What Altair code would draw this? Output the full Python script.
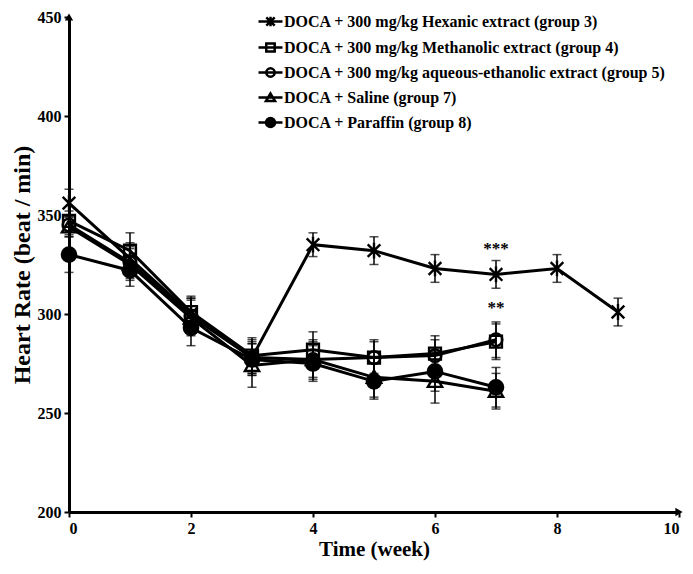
import altair as alt
import pandas as pd

groups = [
    "DOCA + 300 mg/kg Hexanic extract (group 3)",
    "DOCA + 300 mg/kg Methanolic extract (group 4)",
    "DOCA + 300 mg/kg aqueous-ethanolic  extract (group 5)",
    " DOCA + Saline (group 7)",
    "DOCA + Paraffin (group 8)",
]

weeks_hex = [0, 1, 2, 3, 4, 5, 6, 7, 8, 9]
hr_hex = [356, 328, 300, 278, 335, 332, 323, 320, 323, 301]
err_hex = [7, 8, 8, 8, 6, 7, 7, 7, 7, 7]

weeks_other = [0, 1, 2, 3, 4, 5, 6, 7]
hr_meth = [347, 332, 301, 279, 282, 278, 280, 286]
err_meth = [5, 9, 8, 9, 9, 9, 9, 9]
hr_aq = [345, 326, 299, 278, 277, 278, 279, 287]
err_aq = [5, 8, 9, 9, 10, 8, 8, 9]
hr_sal = [344, 325, 298, 274, 277, 268, 266, 261]
err_sal = [5, 8, 9, 11, 9, 10, 11, 9]
hr_par = [330, 322, 293, 277, 275, 266, 271, 263]
err_par = [9, 8, 9, 8, 9, 9, 10, 10]

sig_week = [7, 7]
sig_hr = [333, 303]
sig_text = ["***", "**"]

series = [
    (groups[0], weeks_hex, hr_hex, err_hex),
    (groups[1], weeks_other, hr_meth, err_meth),
    (groups[2], weeks_other, hr_aq, err_aq),
    (groups[3], weeks_other, hr_sal, err_sal),
    (groups[4], weeks_other, hr_par, err_par),
]
rows = []
for g, ws, hs, es in series:
    for w, h, e in zip(ws, hs, es):
        rows.append({"group": g, "week": w, "hr": h, "lo": h - e, "hi": h + e})
df = pd.DataFrame(rows)
sig_df = pd.DataFrame({"week": sig_week, "hr": sig_hr, "t": sig_text})
arrow_df = pd.DataFrame({"week": [0, 10], "hr": [450, 200], "s": ["triangle-up", "triangle-right"]})

FONT = "Liberation Serif"

marker_paths = [
    "M-0.8,-0.8L0.8,0.8M-0.8,0.8L0.8,-0.8M0,-1L0,1",
    "M-0.75,-0.75L0.75,-0.75L0.75,0.75L-0.75,0.75Z",
    "M0.8,0A0.8,0.8 0 1,1 -0.8,0A0.8,0.8 0 1,1 0.8,0Z",
    "M0,-0.85L0.9,0.7L-0.9,0.7Z",
    "M0.9,0A0.9,0.9 0 1,1 -0.9,0A0.9,0.9 0 1,1 0.9,0Z",
]
legend_paths = [
    "M-1,0L1,0M-0.35,-0.35L0.35,0.35M-0.35,0.35L0.35,-0.35M0,-0.4L0,0.4",
    "M-1,0L1,0M-0.35,-0.33L0.35,-0.33L0.35,0.33L-0.35,0.33Z",
    "M-1,0L1,0M0.35,0A0.35,0.35 0 1,1 -0.35,0A0.35,0.35 0 1,1 0.35,0Z",
    "M-1,0L1,0M0,-0.33L0.38,0.3L-0.38,0.3Z",
    "M-1,0L1,0M0.38,0A0.38,0.38 0 1,1 -0.38,0A0.38,0.38 0 1,1 0.38,0Z",
]
fills = ["transparent", "transparent", "transparent", "transparent", "black"]
strokes = ["black"] * 5

x_enc = alt.X("week:Q", scale=alt.Scale(domain=[0, 10], nice=False),
              axis=alt.Axis(title="Time (week)", values=[0, 2, 4, 6, 8, 10], format="d",
                            titleFontSize=21, titlePadding=2))
y_enc = alt.Y("hr:Q", scale=alt.Scale(domain=[200, 450], nice=False, zero=False),
              axis=alt.Axis(title="Heart Rate (beat / min)", values=[200, 250, 300, 350, 400, 450],
                            titleFontSize=24, titlePadding=3))

base = alt.Chart(df)

lines = base.mark_line(color="black", strokeWidth=3).encode(
    x=x_enc, y=y_enc, detail="group:N", order="week:Q")

err_rule = base.mark_rule(color="black", strokeWidth=1.5).encode(
    x="week:Q", y="lo:Q", y2="hi:Q")
cap_lo = base.mark_tick(color="black", thickness=1.5, size=9, orient="horizontal").encode(
    x="week:Q", y="lo:Q")
cap_hi = base.mark_tick(color="black", thickness=1.5, size=9, orient="horizontal").encode(
    x="week:Q", y="hi:Q")

points = base.mark_point(strokeWidth=2.4, opacity=1, size=250).encode(
    x="week:Q", y="hr:Q",
    shape=alt.Shape("group:N", scale=alt.Scale(domain=groups, range=marker_paths), legend=None),
    fill=alt.Fill("group:N", scale=alt.Scale(domain=groups, range=fills), legend=None),
    stroke=alt.Stroke("group:N", scale=alt.Scale(domain=groups, range=strokes), legend=None),
)

leg = dict(title=None, orient="none", legendX=188, legendY=-9,
           labelFont=FONT, labelFontWeight="bold", labelFontSize=16, labelColor="black",
           symbolSize=576, symbolStrokeWidth=2.5, symbolStrokeColor="black",
           rowPadding=2, labelOffset=0, labelLimit=600)
dummy = base.mark_point(strokeWidth=2.5, opacity=1).encode(
    x="week:Q", y="hr:Q",
    shape=alt.Shape("group:N", scale=alt.Scale(domain=groups, range=legend_paths), legend=alt.Legend(**leg)),
    fill=alt.Fill("group:N", scale=alt.Scale(domain=groups, range=fills), legend=alt.Legend(**leg)),
    stroke=alt.Stroke("group:N", scale=alt.Scale(domain=groups, range=strokes), legend=alt.Legend(**leg)),
).transform_filter("false")

sig = alt.Chart(sig_df).mark_text(font=FONT, fontWeight="bold", fontSize=17, color="black").encode(
    x="week:Q", y="hr:Q", text="t:N")

arrows = alt.Chart(arrow_df).mark_point(filled=True, color="black", size=70, opacity=1).encode(
    x="week:Q", y="hr:Q", shape=alt.Shape("s:N", scale=None))

chart = alt.layer(lines, err_rule, cap_lo, cap_hi, points, dummy, sig, arrows).resolve_scale(
    shape="independent", fill="independent", stroke="independent"
).properties(
    width=610, height=495,
    autosize=alt.AutoSizeParams(type="none"),
    padding={"left": 61, "top": 9, "right": 6, "bottom": 52},
).configure_view(stroke=None).configure_axis(
    grid=False, domainColor="black", domainWidth=3, tickColor="black", tickWidth=2, tickSize=5,
    labelFont=FONT, labelFontWeight="bold", labelFontSize=16, labelColor="black",
    titleFont=FONT, titleFontWeight="bold", titleColor="black",
    labelPadding=3,
)

chart.save("out.html", embed_options={"renderer": "svg", "actions": False})
